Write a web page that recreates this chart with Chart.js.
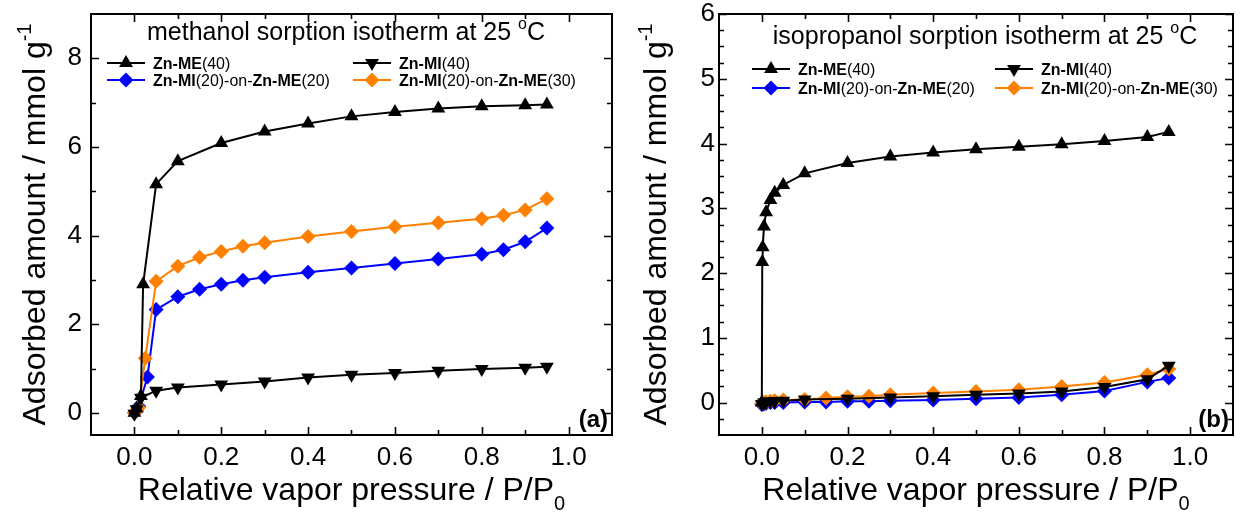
<!DOCTYPE html>
<html>
<head>
<meta charset="utf-8">
<script src="https://cdn.jsdelivr.net/npm/chart.js@4.4.1/dist/chart.umd.min.js"></script>
<style>
  html, body { margin: 0; padding: 0; background: #fff; }
  body { width: 1241px; height: 514px; position: relative; overflow: hidden; }
  .panel { position: absolute; top: 0; height: 514px; }
  #wrapA { left: 0; width: 620px; }
  #wrapB { left: 625px; width: 616px; }
</style>
</head>
<body>
<div class="panel" id="wrapA"><canvas id="chartA"></canvas></div>
<div class="panel" id="wrapB"><canvas id="chartB"></canvas></div>
<script>
// series names (bold parts handled when drawing the legend)
const seriesNames = ['Zn-ME(40)', 'Zn-MI(40)', 'Zn-MI(20)-on-Zn-ME(20)', 'Zn-MI(20)-on-Zn-ME(30)'];

// (a) methanol, 25 C
const meohME40X = [0, 0.005, 0.015, 0.02, 0.05, 0.1, 0.2, 0.3, 0.4, 0.5, 0.6, 0.7, 0.8, 0.9, 0.95];
const meohME40Y = [0.0, 0.1, 0.38, 2.9, 5.16, 5.68, 6.09, 6.35, 6.53, 6.69, 6.79, 6.87, 6.92, 6.94, 6.96];
const meohMI40X = [0, 0.005, 0.015, 0.05, 0.1, 0.2, 0.3, 0.4, 0.5, 0.6, 0.7, 0.8, 0.9, 0.95];
const meohMI40Y = [-0.02, 0.08, 0.34, 0.5, 0.57, 0.64, 0.71, 0.8, 0.86, 0.9, 0.95, 0.99, 1.02, 1.04];
const meohMI20ME20X = [0, 0.005, 0.01, 0.03, 0.05, 0.1, 0.15, 0.2, 0.25, 0.3, 0.4, 0.5, 0.6, 0.7, 0.8, 0.85, 0.9, 0.95];
const meohMI20ME20Y = [0, 0.05, 0.15, 0.81, 2.33, 2.62, 2.79, 2.9, 2.99, 3.06, 3.17, 3.27, 3.37, 3.47, 3.58, 3.68, 3.86, 4.17];
const meohMI20ME30X = [0, 0.005, 0.01, 0.025, 0.05, 0.1, 0.15, 0.2, 0.25, 0.3, 0.4, 0.5, 0.6, 0.7, 0.8, 0.85, 0.9, 0.95];
const meohMI20ME30Y = [0, 0.05, 0.12, 1.23, 2.97, 3.31, 3.51, 3.64, 3.76, 3.84, 3.98, 4.09, 4.2, 4.29, 4.38, 4.46, 4.58, 4.83];

// (b) isopropanol, 25 C
const ipaME40X = [0, 0.001, 0.002, 0.005, 0.01, 0.02, 0.03, 0.05, 0.1, 0.2, 0.3, 0.4, 0.5, 0.6, 0.7, 0.8, 0.9, 0.95];
const ipaME40Y = [0.0, 2.17, 2.4, 2.72, 2.94, 3.13, 3.24, 3.36, 3.54, 3.7, 3.8, 3.86, 3.91, 3.95, 3.99, 4.04, 4.1, 4.18];
const ipaMI40X = [0, 0.005, 0.01, 0.02, 0.03, 0.05, 0.1, 0.2, 0.3, 0.4, 0.5, 0.6, 0.7, 0.8, 0.9, 0.95];
const ipaMI40Y = [-0.02, 0.0, 0.01, 0.02, 0.02, 0.03, 0.05, 0.06, 0.08, 0.1, 0.12, 0.14, 0.17, 0.24, 0.36, 0.57];
const ipaMixX = [0, 0.005, 0.01, 0.02, 0.03, 0.05, 0.1, 0.15, 0.2, 0.25, 0.3, 0.4, 0.5, 0.6, 0.7, 0.8, 0.9, 0.95];
const ipaMI20ME20Y = [-0.03, -0.02, -0.01, 0.0, 0.0, 0.0, 0.01, 0.01, 0.02, 0.02, 0.03, 0.04, 0.06, 0.08, 0.12, 0.18, 0.32, 0.38];
const ipaMI20ME30Y = [-0.01, 0.0, 0.01, 0.02, 0.03, 0.04, 0.05, 0.07, 0.09, 0.1, 0.12, 0.15, 0.17, 0.2, 0.25, 0.31, 0.43, 0.52];

// ticks
const xMajor = [0, 0.2, 0.4, 0.6, 0.8, 1.0];
const xMinor = [0.1, 0.3, 0.5, 0.7, 0.9];
const yMajorA = [0, 2, 4, 6, 8];
const yMinorA = [1, 3, 5, 7];
const yMajorB = [0, 1, 2, 3, 4, 5, 6];
const yMinorB = [-0.25, 0.25, 0.5, 0.75, 1.25, 1.5, 1.75, 2.25, 2.5, 2.75, 3.25, 3.5, 3.75, 4.25, 4.5, 4.75, 5.25, 5.5, 5.75];

const FONT = '"Liberation Sans", Arial, sans-serif';
const BLUE = '#0000ff', ORANGE = '#ff8000', BLACK = '#000000';

function fontFor(s, size) {
  const sz = (s.sup || s.sub) ? Math.round(size * 0.62) : size;
  return (s.bold ? 'bold ' : '') + sz + 'px ' + FONT;
}
function richWidth(ctx, segs, size) {
  let w = 0;
  segs.forEach(s => { ctx.font = fontFor(s, size); w += ctx.measureText(s.t).width; });
  return w;
}
function drawRich(ctx, x, y, segs, size, align) {
  const w = richWidth(ctx, segs, size);
  let cx = align === 'center' ? x - w / 2 : (align === 'right' ? x - w : x);
  ctx.textAlign = 'left';
  ctx.textBaseline = 'alphabetic';
  segs.forEach(s => {
    ctx.font = fontFor(s, size);
    const dy = s.sup ? -size * 0.45 : (s.sub ? size * 0.32 : 0);
    ctx.fillText(s.t, cx, y + dy);
    cx += ctx.measureText(s.t).width;
  });
}
// "Zn-ME" / "Zn-MI" bold, the rest plain
function nameSegs(name) {
  return name.split(/(Zn-M[EI])/).filter(t => t).map(t => ({ t, bold: /^Zn-M[EI]$/.test(t) }));
}

function marker(ctx, style, x, y, r) {
  ctx.beginPath();
  if (style === 'up') {
    ctx.moveTo(x, y - r); ctx.lineTo(x + r * 0.866, y + r * 0.5); ctx.lineTo(x - r * 0.866, y + r * 0.5);
  } else if (style === 'down') {
    ctx.moveTo(x, y + r); ctx.lineTo(x + r * 0.866, y - r * 0.5); ctx.lineTo(x - r * 0.866, y - r * 0.5);
  } else {
    ctx.moveTo(x - r, y); ctx.lineTo(x, y - r); ctx.lineTo(x + r, y); ctx.lineTo(x, y + r);
  }
  ctx.closePath();
  ctx.fill();
}

const legendStyles = [
  { color: BLACK, style: 'up', r: 8 },
  { color: BLACK, style: 'down', r: 8 },
  { color: BLUE, style: 'diamond', r: 7.5 },
  { color: ORANGE, style: 'diamond', r: 7.5 }
];

function decor(cfg) {
  return {
    id: 'decor',
    afterDraw(chart) {
      const ctx = chart.ctx, a = chart.chartArea;
      const xs = chart.scales.x, ys = chart.scales.y;
      ctx.save();
      ctx.fillStyle = '#000';
      ctx.strokeStyle = '#000';

      // inward ticks on all four sides
      ctx.lineWidth = 1.6;
      ctx.beginPath();
      const xt = (vals, len) => vals.forEach(v => {
        const p = Math.round(xs.getPixelForValue(v)) + 0.5;
        ctx.moveTo(p, a.bottom); ctx.lineTo(p, a.bottom - len);
        ctx.moveTo(p, a.top); ctx.lineTo(p, a.top + len);
      });
      const yt = (vals, len) => vals.forEach(v => {
        const p = Math.round(ys.getPixelForValue(v)) + 0.5;
        ctx.moveTo(a.left, p); ctx.lineTo(a.left + len, p);
        ctx.moveTo(a.right, p); ctx.lineTo(a.right - len, p);
      });
      xt(xMajor, 8); xt(xMinor, 5);
      yt(cfg.yMajor, 8); yt(cfg.yMinor, 5);
      ctx.stroke();

      // frame
      ctx.lineWidth = 2;
      ctx.strokeRect(a.left, a.top, a.right - a.left, a.bottom - a.top);

      // title inside plot
      drawRich(ctx, cfg.titleX, cfg.titleY, cfg.title, 25, 'center');

      // legend, 2 x 2
      seriesNames.forEach((name, i) => {
        const col = i % 2, row = Math.floor(i / 2);
        const lx = cfg.legX[col], ly = cfg.legY[row];
        const st = legendStyles[i];
        ctx.strokeStyle = st.color; ctx.fillStyle = st.color;
        ctx.lineWidth = 2;
        ctx.beginPath(); ctx.moveTo(lx, ly); ctx.lineTo(lx + 38, ly); ctx.stroke();
        marker(ctx, st.style, lx + 19, ly, st.r);
        ctx.fillStyle = '#000';
        drawRich(ctx, lx + 46, ly + 6, nameSegs(name), 16, 'left');
      });

      // panel letter
      drawRich(ctx, a.right - 4, a.bottom - 8, [{ t: cfg.letter, bold: true }], 24, 'right');

      // axis titles
      drawRich(ctx, (a.left + a.right) / 2, 500,
        [{ t: 'Relative vapor pressure / P/P' }, { t: '0', sub: true }], 32, 'center');
      ctx.translate(cfg.yTitleX, (a.top + a.bottom) / 2);
      ctx.rotate(-Math.PI / 2);
      drawRich(ctx, 0, 0, [{ t: 'Adsorbed amount / mmol g' }, { t: '-1', sup: true }], 32, 'center');
      ctx.restore();
    }
  };
}

function series(i, xs, ys, order) {
  const st = legendStyles[i];
  return {
    label: seriesNames[i],
    data: xs.map((x, k) => ({ x, y: ys[k] })),
    showLine: true,
    borderColor: st.color,
    backgroundColor: st.color,
    borderWidth: 2,
    pointStyle: st.style === 'diamond' ? 'rectRot' : 'triangle',
    rotation: st.style === 'down' ? 180 : 0,
    pointRadius: st.r,
    pointBorderWidth: 0,
    tension: 0,
    order
  };
}

function makeChart(id, datasets, yMin, yMax, yMajor, yWidth, yPad, rightPad, cfg) {
  return new Chart(document.getElementById(id), {
    type: 'scatter',
    data: { datasets },
    options: {
      responsive: true,
      maintainAspectRatio: false,
      animation: false,
      events: [],
      layout: { padding: { top: 14, right: rightPad, left: 0, bottom: 0 } },
      plugins: { legend: { display: false }, tooltip: { enabled: false } },
      scales: {
        x: {
          type: 'linear', min: -0.1, max: 1.1,
          grid: { display: false, drawTicks: false },
          border: { display: false },
          afterBuildTicks: s => { s.ticks = xMajor.map(v => ({ value: v })); },
          afterFit: s => { s.height = 79; s.paddingLeft = 0; s.paddingRight = 0; },
          ticks: {
            color: '#000', padding: 7, maxRotation: 0, autoSkip: false,
            font: { family: FONT, size: 26 },
            callback: v => Number(v).toFixed(1)
          }
        },
        y: {
          type: 'linear', min: yMin, max: yMax,
          grid: { display: false, drawTicks: false },
          border: { display: false },
          afterBuildTicks: s => { s.ticks = yMajor.map(v => ({ value: v })); },
          afterFit: s => { s.width = yWidth; s.paddingTop = 0; s.paddingBottom = 0; },
          ticks: {
            color: '#000', padding: yPad, autoSkip: false,
            font: { family: FONT, size: 26 },
            callback: v => String(v)
          }
        }
      }
    },
    plugins: [decor(cfg)]
  });
}

makeChart('chartA', [
  series(0, meohME40X, meohME40Y, 1),
  series(1, meohMI40X, meohMI40Y, 0),
  series(2, meohMI20ME20X, meohMI20ME20Y, 3),
  series(3, meohMI20ME30X, meohMI20ME30Y, 2)
], -0.5, 9, yMajorA, 91, 9, 8, {
  yMajor: yMajorA, yMinor: yMinorA,
  title: [{ t: 'methanol sorption isotherm at 25 ' }, { t: 'o', sup: true }, { t: 'C' }],
  titleX: 346, titleY: 40,
  legX: [107, 353], legY: [63, 80],
  letter: '(a)', yTitleX: 45
});

makeChart('chartB', [
  series(0, ipaME40X, ipaME40Y, 1),
  series(1, ipaMI40X, ipaMI40Y, 0),
  series(2, ipaMixX, ipaMI20ME20Y, 3),
  series(3, ipaMixX, ipaMI20ME30Y, 2)
], -0.5, 6, yMajorB, 94, 4, 5, {
  yMajor: yMajorB, yMinor: yMinorB,
  title: [{ t: 'isopropanol sorption isotherm at 25 ' }, { t: 'o', sup: true }, { t: 'C' }],
  titleX: 360, titleY: 44,
  legX: [127, 370], legY: [69, 88],
  letter: '(b)', yTitleX: 41
});
</script>
</body>
</html>
